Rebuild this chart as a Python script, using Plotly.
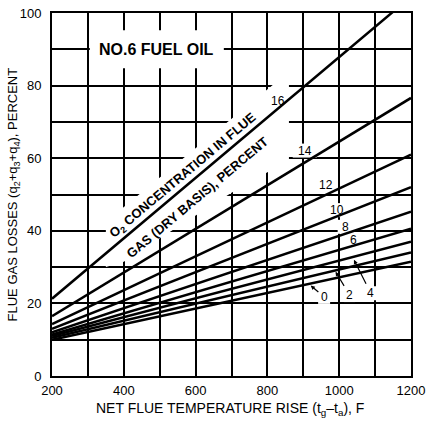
import plotly.graph_objects as go

# ---- data ----
o2_levels = [0, 2, 4, 6, 8, 10, 12, 14, 16]
temp_rise_ends = [200, 1200]
loss_at_200 = [10.0, 10.5, 11.0, 11.4, 12.0, 13.0, 14.3, 16.5, 21.3]
loss_at_1200 = [31.5, 34.0, 37.0, 40.6, 45.3, 52.0, 61.0, 76.6, 104.5]
x_tick_vals = [200, 400, 600, 800, 1000, 1200]
y_tick_vals = [0, 20, 40, 60, 80, 100]

FONT = "Liberation Sans"
BLACK = "black"

fig = go.Figure()
for o2, y_start, y_end in zip(o2_levels, loss_at_200, loss_at_1200):
    fig.add_trace(go.Scatter(
        x=temp_rise_ends, y=[y_start, y_end], mode="lines",
        line=dict(color=BLACK, width=2.5), name=f"{o2}",
        hoverinfo="skip", showlegend=False))

fig.update_layout(
    width=428, height=421,
    margin=dict(l=52, r=17, t=13, b=45, autoexpand=False),
    paper_bgcolor="white", plot_bgcolor="white",
    showlegend=False,
)
grid_style = dict(showgrid=True, gridcolor=BLACK, gridwidth=1.5)
fig.update_xaxes(
    range=[200, 1200], tickmode="array", tickvals=x_tick_vals,
    ticktext=[str(v) for v in x_tick_vals], automargin=False,
    minor=dict(dtick=100, tick0=0, showgrid=True, gridcolor=BLACK, gridwidth=1.5),
    showline=True, linecolor=BLACK, linewidth=2, mirror=True,
    zeroline=False, ticks="", ticklabelstandoff=1,
    tickfont=dict(family=FONT, size=13, color=BLACK), **grid_style)
fig.update_yaxes(
    range=[0, 100], tickmode="array", tickvals=y_tick_vals,
    ticktext=[str(v) for v in y_tick_vals], automargin=False,
    minor=dict(dtick=10, tick0=0, showgrid=True, gridcolor=BLACK, gridwidth=1.5),
    showline=True, linecolor=BLACK, linewidth=2, mirror=True,
    zeroline=False, ticks="", ticklabelstandoff=6,
    tickfont=dict(family=FONT, size=13, color=BLACK), **grid_style)

# white masks that break the grid behind the printed labels (below the curves)
shapes = [dict(type="path", layer="between", xref="x", yref="y",
               path="M 350,42.5 L 860,83.8 L 860,59.5 L 700,50.5 L 530,39.8 L 400,31.5 L 350,30 Z",
               fillcolor="white", line=dict(width=0))]

def mask(x, y, hw, hh):
    shapes.append(dict(type="rect", layer="between", xref="x", yref="y",
                       xsizemode="pixel", ysizemode="pixel", xanchor=x, yanchor=y,
                       x0=-hw, x1=hw, y0=-hh, y1=hh,
                       fillcolor="white", line=dict(width=0)))

mask(492, 90, 67, 19)

line_labels = [("16", 829, 75.8), ("14", 904, 62.1), ("12", 962, 52.6),
               ("10", 995, 45.7), ("8", 1018, 41.1), ("6", 1039, 37.5)]
annotations = []
for txt, lx, ly in line_labels:
    mask(lx, ly, 4 + 4 * len(txt), 7)
    annotations.append(dict(x=lx, y=ly, xref="x", yref="y", text=txt, showarrow=False,
                            font=dict(family=FONT, size=12, color=BLACK)))

arrow_labels = [("0", 958, 21.8, 920.6, 24.9), ("2", 1029, 22.3, 990, 28.7),
                ("4", 1088, 22.8, 1041, 32.0)]
for txt, lx, ly, tx, ty in arrow_labels:
    mask(lx, ly, 6, 7)
    annotations.append(dict(x=tx, y=ty, xref="x", yref="y", ax=lx, ay=ly,
                            axref="x", ayref="y", text=txt, showarrow=True,
                            arrowhead=2, arrowsize=0.7, arrowwidth=1.2, arrowcolor=BLACK,
                            standoff=0, startstandoff=1,
                            font=dict(family=FONT, size=12, color=BLACK)))

annotations += [
    dict(x=492, y=90, xref="x", yref="y", text="<b>NO.6 FUEL OIL</b>", showarrow=False,
         font=dict(family=FONT, size=16, color=BLACK)),
    dict(x=566, y=55.2, xref="x", yref="y", text="<b>O<sub>2</sub> CONCENTRATION IN FLUE</b>",
         showarrow=False, textangle=-40, font=dict(family=FONT, size=13, color=BLACK)),
    dict(x=604, y=49.3, xref="x", yref="y", text="<b>GAS (DRY BASIS), PERCENT</b>",
         showarrow=False, textangle=-40, font=dict(family=FONT, size=13, color=BLACK)),
    dict(x=0.496, y=-0.09, xref="paper", yref="paper", xanchor="center", yanchor="middle",
         text="NET FLUE TEMPERATURE RISE (t<sub>g</sub>–t<sub>a</sub>), F", showarrow=False,
         font=dict(family=FONT, size=14, color=BLACK)),
    dict(x=-0.106, y=0.5, xref="paper", yref="paper", xanchor="center", yanchor="middle",
         text="FLUE GAS LOSSES (q<sub>2</sub>+q<sub>3</sub>+q<sub>4</sub>), PERCENT",
         textangle=-90, showarrow=False, font=dict(family=FONT, size=13, color=BLACK)),
]

fig.update_layout(shapes=shapes, annotations=annotations)
fig.write_html("out.html")
